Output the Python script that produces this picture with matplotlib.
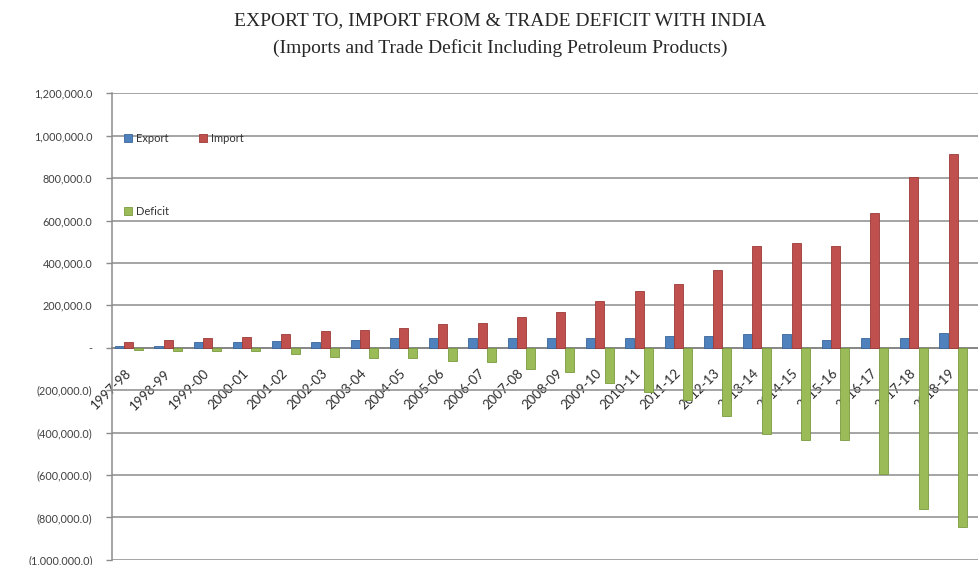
import numpy as np
import matplotlib
matplotlib.use("Agg")
import matplotlib.pyplot as plt
from matplotlib.ticker import FuncFormatter, MultipleLocator

years = ["1997-98", "1998-99", "1999-00", "2000-01", "2001-02", "2002-03", "2003-04",
         "2004-05", "2005-06", "2006-07", "2007-08", "2008-09", "2009-10", "2010-11",
         "2011-12", "2012-13", "2013-14", "2014-15", "2015-16", "2016-17", "2017-18",
         "2018-19"]
export = [8000, 10000, 27000, 27000, 31000, 28000, 36000, 44000, 44000, 47000, 44000,
          44000, 44000, 48000, 55000, 55000, 63000, 63000, 39000, 47000, 47000, 71000]
imports = [28000, 36000, 44000, 49000, 63000, 79000, 84000, 92000, 112000, 118000, 147000,
           167000, 221000, 270000, 302000, 369000, 479000, 492000, 479000, 634000, 804000, 914000]
deficit = [-12000, -14000, -14000, -16000, -28000, -44000, -46000, -46000, -61000, -66000,
           -101000, -116000, -168000, -207000, -246000, -320000, -405000, -433000, -433000,
           -594000, -759000, -846000]

title1 = "EXPORT TO, IMPORT FROM & TRADE DEFICIT WITH INDIA"
title2 = "(Imports and Trade Deficit Including Petroleum Products)"

c_exp = "#4F81BD"
c_imp = "#C0504D"
c_def = "#9BBB59"

fig = plt.figure(figsize=(9.79, 5.65), dpi=100)
ax = fig.add_axes([0.1144, 0.009, 0.8856, 0.826])

x = np.arange(len(years))
w = 0.23
off = 0.235
b1 = ax.bar(x - off, export, w, color=c_exp, edgecolor="#3A6699", linewidth=0.6, label="Export", zorder=3)
b3 = ax.bar(x + off, deficit, w, color=c_def, edgecolor="#7A9A3E", linewidth=0.6, label="Deficit", zorder=3)
b2 = ax.bar(x, imports, w, color=c_imp, edgecolor="#9A3B38", linewidth=0.6, label="Import", zorder=3)

ax.set_xlim(-0.43, 21.66)
ax.set_ylim(-1000000, 1200000)
ax.yaxis.set_major_locator(MultipleLocator(200000))

def fmt(v, pos):
    if abs(v) < 1:
        return "-"
    if v < 0:
        return "({:,.1f})".format(-v)
    return "{:,.1f}".format(v)

ax.yaxis.set_major_formatter(FuncFormatter(fmt))
ax.grid(axis="y", color="#8C8C8C", linewidth=1.1, zorder=0)
ax.set_axisbelow(True)

for s in ["top", "right"]:
    ax.spines[s].set_visible(False)
ax.spines["left"].set_color("#8C8C8C")
ax.spines["left"].set_linewidth(1.1)
ax.spines["bottom"].set_position(("data", 0))
ax.spines["bottom"].set_color("#7F7F7F")
ax.spines["bottom"].set_linewidth(1.1)

ax.set_xticks(x)
ax.set_xticklabels(years, rotation=45, ha="right", va="center", rotation_mode="anchor",
                   fontsize=9.5, color="#2b2b2b", family="Lato")
ax.tick_params(axis="x", length=0, pad=17)
ax.tick_params(axis="y", length=4, width=1, color="#8C8C8C", labelsize=7.8,
               labelcolor="#404040", pad=10)
for t in ax.get_yticklabels():
    t.set_family("Lato")

leg = ax.legend(handles=[b1, b3, b2], ncol=2, loc="upper left",
                bbox_to_anchor=(0.006, 0.93), frameon=False,
                prop={"family": "Lato", "size": 8},
                handlelength=0.7, handleheight=0.7, handletextpad=0.4,
                labelspacing=5.6, columnspacing=2.7, borderaxespad=0.2)
for t in leg.get_texts():
    t.set_color("#333333")

fig.text(0.511, 0.963, title1, ha="center", va="center", fontsize=14,
         family="Liberation Serif", color="#262626")
fig.text(0.511, 0.915, title2, ha="center", va="center", fontsize=14,
         family="Liberation Serif", color="#262626")

fig.savefig("out.png", dpi=100)
